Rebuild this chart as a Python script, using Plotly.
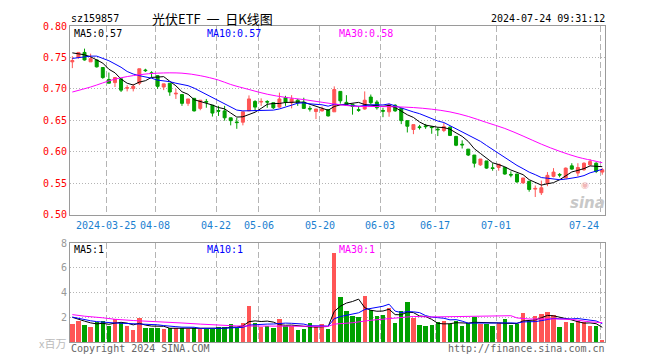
import plotly.graph_objects as go

# ---------------- data ----------------
open_ = [0.743, 0.750, 0.758, 0.743, 0.746, 0.734, 0.715, 0.710, 0.716, 0.701,
         0.7005, 0.709, 0.730, 0.7255, 0.721, 0.703, 0.709, 0.692, 0.691, 0.677,
         0.685, 0.669, 0.680, 0.674, 0.6656, 0.665, 0.654, 0.6474, 0.647, 0.665,
         0.680, 0.679, 0.680, 0.678, 0.671, 0.686, 0.678, 0.682, 0.679, 0.669,
         0.664, 0.665, 0.667, 0.6635, 0.696, 0.6786, 0.6755, 0.667, 0.668, 0.687,
         0.679, 0.6656, 0.6635, 0.674, 0.669, 0.6495, 0.6354, 0.6396, 0.6411, 0.6396,
         0.636, 0.6339, 0.639, 0.6245, 0.612, 0.6042, 0.5948, 0.5792, 0.5854, 0.5745,
         0.575, 0.575, 0.564, 0.5646, 0.5505, 0.5531, 0.5406, 0.5349, 0.5495, 0.5609,
         0.564, 0.5583, 0.5776, 0.5661, 0.5714, 0.5792, 0.5818, 0.5677]
high = [0.752, 0.758, 0.764, 0.756, 0.746, 0.734, 0.726, 0.719, 0.716, 0.706,
        0.708, 0.732, 0.732, 0.728, 0.722, 0.708, 0.709, 0.700, 0.691, 0.684,
        0.685, 0.682, 0.684, 0.674, 0.673, 0.673, 0.654, 0.654, 0.6635, 0.6896,
        0.682, 0.685, 0.682, 0.678, 0.694, 0.689, 0.690, 0.684, 0.686, 0.673,
        0.668, 0.672, 0.667, 0.704, 0.696, 0.690, 0.6755, 0.673, 0.696, 0.691,
        0.682, 0.670, 0.6766, 0.6755, 0.669, 0.6495, 0.6432, 0.6427, 0.6443, 0.6406,
        0.639, 0.6458, 0.6406, 0.6245, 0.6182, 0.6042, 0.5948, 0.5885, 0.5854, 0.5818,
        0.5802, 0.575, 0.5688, 0.5646, 0.5583, 0.5531, 0.5464, 0.5542, 0.5677, 0.574,
        0.5661, 0.575, 0.5818, 0.5818, 0.5833, 0.5885, 0.5833, 0.574]
low = [0.733, 0.748, 0.745, 0.743, 0.734, 0.716, 0.709, 0.703, 0.695, 0.696,
       0.696, 0.706, 0.727, 0.718, 0.700, 0.698, 0.689, 0.684, 0.673, 0.673,
       0.664, 0.666, 0.670, 0.656, 0.657, 0.6495, 0.642, 0.6365, 0.642, 0.665,
       0.665, 0.673, 0.670, 0.668, 0.670, 0.673, 0.669, 0.673, 0.668, 0.664,
       0.652, 0.664, 0.656, 0.6635, 0.6766, 0.6745, 0.659, 0.6635, 0.667, 0.6755,
       0.667, 0.655, 0.6557, 0.6635, 0.644, 0.6307, 0.628, 0.6354, 0.6365, 0.6286,
       0.625, 0.6313, 0.625, 0.6089, 0.6052, 0.5932, 0.575, 0.5776, 0.573, 0.5698,
       0.5698, 0.5635, 0.5594, 0.5505, 0.5495, 0.5365, 0.5281, 0.5313, 0.5453, 0.5594,
       0.5594, 0.5583, 0.5714, 0.5609, 0.5698, 0.5781, 0.5661, 0.5635]
close = [0.745, 0.758, 0.746, 0.748, 0.735, 0.718, 0.709, 0.718, 0.698, 0.702,
         0.704, 0.732, 0.729, 0.7245, 0.704, 0.708, 0.695, 0.693, 0.677, 0.684,
         0.665, 0.682, 0.679, 0.6615, 0.6646, 0.654, 0.6495, 0.6464, 0.6635, 0.684,
         0.671, 0.680, 0.679, 0.670, 0.684, 0.679, 0.684, 0.678, 0.669, 0.668,
         0.668, 0.668, 0.657, 0.699, 0.681, 0.6745, 0.672, 0.666, 0.682, 0.678,
         0.670, 0.6646, 0.6745, 0.665, 0.6495, 0.6406, 0.6432, 0.6385, 0.640, 0.6385,
         0.635, 0.640, 0.626, 0.6104, 0.611, 0.5948, 0.5818, 0.5885, 0.574, 0.5734,
         0.5802, 0.5646, 0.563, 0.5521, 0.5583, 0.5401, 0.5417, 0.5427, 0.5625, 0.5677,
         0.563, 0.574, 0.5724, 0.575, 0.5818, 0.5844, 0.5688, 0.5714]
volume = [1.45, 1.69, 1.37, 1.21, 1.61, 1.69, 1.29, 1.85, 1.53, 1.29,
          0.97, 1.93, 1.13, 1.13, 1.13, 1.05, 1.13, 1.13, 1.13, 1.05,
          1.13, 1.05, 1.05, 1.05, 1.21, 1.21, 1.45, 1.13, 1.53, 2.90,
          1.53, 1.21, 1.29, 1.13, 1.85, 1.29, 1.29, 0.97, 1.05, 1.53,
          1.21, 1.45, 1.05, 7.16, 3.62, 2.49, 2.09, 2.01, 3.70, 2.57,
          2.09, 2.17, 2.73, 1.53, 2.49, 3.22, 1.93, 1.37, 1.29, 1.37,
          1.61, 1.69, 1.45, 1.69, 1.29, 1.53, 2.01, 1.45, 1.45, 1.29,
          1.53, 1.85, 1.37, 1.45, 2.33, 1.69, 2.09, 2.25, 2.41, 2.17,
          1.21, 1.61, 1.53, 1.69, 1.61, 1.29, 1.29, 0.08]

ma5 = [0.7573, 0.7563, 0.7542, 0.751, 0.7464, 0.741, 0.7312, 0.7256, 0.7156, 0.709,
       0.7062, 0.7108, 0.713, 0.7183, 0.7187, 0.7195, 0.7121, 0.7049, 0.6954, 0.6914,
       0.6828, 0.6802, 0.6774, 0.6743, 0.6704, 0.6682, 0.6617, 0.6552, 0.6556, 0.6595,
       0.6629, 0.669, 0.6755, 0.6768, 0.6768, 0.6784, 0.6792, 0.679, 0.6788, 0.6756,
       0.6734, 0.6702, 0.666, 0.672, 0.6746, 0.6759, 0.6767, 0.6785, 0.6751, 0.6745,
       0.6736, 0.6721, 0.6738, 0.6704, 0.6647, 0.6588, 0.6546, 0.6474, 0.6424, 0.6402,
       0.639, 0.6384, 0.6359, 0.63, 0.6245, 0.6164, 0.6048, 0.5973, 0.59, 0.5825,
       0.5796, 0.5761, 0.571, 0.5667, 0.5636, 0.5556, 0.551, 0.547, 0.5491, 0.5509,
       0.5555, 0.562, 0.5679, 0.5704, 0.5732, 0.5775, 0.5765, 0.5763]
ma10 = [0.7484, 0.75, 0.751, 0.7521, 0.7521, 0.7484, 0.7448, 0.7396, 0.7344, 0.7277,
        0.7236, 0.721, 0.7193, 0.717, 0.7139, 0.7129, 0.7115, 0.709, 0.7069, 0.7051,
        0.7012, 0.6962, 0.6912, 0.6849, 0.6809, 0.6755, 0.671, 0.6663, 0.665, 0.665,
        0.6656, 0.6654, 0.6654, 0.6662, 0.6681, 0.6706, 0.6741, 0.6773, 0.6778, 0.6762,
        0.6759, 0.6747, 0.6725, 0.6754, 0.6751, 0.6747, 0.6735, 0.6723, 0.6736, 0.6746,
        0.6748, 0.6744, 0.6762, 0.6728, 0.6696, 0.6662, 0.6633, 0.6606, 0.6564, 0.6524,
        0.6489, 0.6465, 0.6416, 0.6362, 0.6323, 0.6277, 0.6216, 0.6166, 0.61, 0.6035,
        0.598, 0.5905, 0.5842, 0.5783, 0.5731, 0.5676, 0.5636, 0.559, 0.5579, 0.5573,
        0.5556, 0.5565, 0.5575, 0.5597, 0.5621, 0.5665, 0.5692, 0.5721]
ma30_day = [0, 3, 7, 11, 14, 18, 21, 24, 26, 29, 32, 35, 38, 41, 44, 47, 50, 53,
            56, 59, 62, 65, 68, 71, 74, 77, 80, 83, 86, 87]
ma30_val = [0.695, 0.703, 0.7155, 0.7225, 0.725, 0.725, 0.721, 0.714, 0.707, 0.699,
            0.6915, 0.6865, 0.683, 0.6787, 0.6747, 0.672, 0.672, 0.6715, 0.6703, 0.6677,
            0.6634, 0.6562, 0.6466, 0.6371, 0.625, 0.6121, 0.6008, 0.5914, 0.5848, 0.5826]

vma5 = [2.0, 1.82, 1.69, 1.55, 1.466, 1.514, 1.434, 1.53, 1.594, 1.53,
        1.386, 1.514, 1.37, 1.29, 1.258, 1.274, 1.114, 1.114, 1.114, 1.098,
        1.114, 1.098, 1.082, 1.066, 1.098, 1.114, 1.194, 1.21, 1.306, 1.644,
        1.708, 1.66, 1.692, 1.612, 1.402, 1.354, 1.37, 1.306, 1.29, 1.226,
        1.21, 1.242, 1.258, 2.48, 2.898, 3.154, 3.282, 3.474, 2.782, 2.572,
        2.492, 2.508, 2.652, 2.218, 2.202, 2.428, 2.38, 2.108, 2.06, 1.836,
        1.514, 1.466, 1.482, 1.562, 1.546, 1.53, 1.594, 1.594, 1.546, 1.546,
        1.546, 1.514, 1.498, 1.498, 1.706, 1.738, 1.786, 1.962, 2.154, 2.122,
        2.026, 1.93, 1.786, 1.642, 1.53, 1.546, 1.482, 1.192]
vma10 = [2.02, 1.9, 1.8, 1.72, 1.65, 1.6, 1.56, 1.54, 1.52, 1.498,
         1.45, 1.474, 1.45, 1.442, 1.394, 1.33, 1.314, 1.242, 1.202, 1.178,
         1.194, 1.106, 1.098, 1.09, 1.098, 1.114, 1.146, 1.146, 1.186, 1.371,
         1.411, 1.427, 1.451, 1.459, 1.523, 1.531, 1.515, 1.499, 1.451, 1.314,
         1.282, 1.306, 1.282, 1.885, 2.062, 2.182, 2.262, 2.366, 2.631, 2.735,
         2.823, 2.895, 3.063, 2.5, 2.387, 2.46, 2.444, 2.38, 2.139, 2.019,
         1.971, 1.923, 1.795, 1.811, 1.691, 1.522, 1.53, 1.538, 1.554, 1.546,
         1.538, 1.554, 1.546, 1.522, 1.626, 1.642, 1.65, 1.73, 1.826, 1.914,
         1.882, 1.858, 1.874, 1.898, 1.826, 1.786, 1.706, 1.489]
vma30_day = [0, 2, 5, 7, 10, 14, 18, 21, 24, 27, 32, 38, 42, 43, 46, 49, 53, 56,
             59, 62, 65, 69, 72, 73, 75, 79, 82, 85, 87]
vma30_val = [2.22, 2.09, 1.96, 1.84, 1.74, 1.66, 1.54, 1.45, 1.36, 1.30, 1.29, 1.28,
             1.27, 1.45, 1.56, 1.76, 1.97, 2.07, 2.03, 2.05, 2.07, 2.11, 2.13, 1.95,
             1.86, 1.87, 1.83, 1.63, 1.57]

tick_day = [6, 14, 24, 31, 41, 51, 60, 70, 87]
tick_text = ["2024-03-25", "04-08", "04-22", "05-06", "05-20", "06-03", "06-17", "07-01", "07-24"]
price_ticks = [0.50, 0.55, 0.60, 0.65, 0.70, 0.75, 0.80]
vol_ticks = [2, 4, 6, 8]

# ---------------- styling ----------------
UP = "#ff5555"
DN = "#00a000"
MONO = "DejaVu Sans Mono"
CJK = "Noto Sans CJK SC"
GRID = "#b4b4b4"
BORDER = "#9a9a9a"
FS = 10

days = list(range(len(close)))
bar_colors = [UP if c >= o else DN for o, c in zip(open_, close)]
grid_pos = [d - 0.37 for d in tick_day]

fig = go.Figure()
fig.add_trace(go.Candlestick(
    x=days, open=open_, high=high, low=low, close=close,
    increasing=dict(line=dict(color=UP, width=1), fillcolor=UP),
    decreasing=dict(line=dict(color=DN, width=1), fillcolor=DN),
    whiskerwidth=0, xaxis="x", yaxis="y", showlegend=False, hoverinfo="skip"))
fig.add_trace(go.Scatter(x=days, y=ma5, mode="lines", line=dict(color="#000000", width=1),
                         xaxis="x", yaxis="y", showlegend=False))
fig.add_trace(go.Scatter(x=days, y=ma10, mode="lines", line=dict(color="#0000ff", width=1),
                         xaxis="x", yaxis="y", showlegend=False))
fig.add_trace(go.Scatter(x=ma30_day, y=ma30_val, mode="lines",
                         line=dict(color="#ff00ff", width=1, shape="spline"),
                         xaxis="x", yaxis="y", showlegend=False))

fig.add_trace(go.Bar(x=days, y=volume, marker=dict(color=bar_colors, line=dict(width=0)),
                     width=0.72, xaxis="x2", yaxis="y2", showlegend=False))
fig.add_trace(go.Scatter(x=days, y=vma5, mode="lines", line=dict(color="#000000", width=1),
                         xaxis="x2", yaxis="y2", showlegend=False))
fig.add_trace(go.Scatter(x=days, y=vma10, mode="lines", line=dict(color="#0000ff", width=1),
                         xaxis="x2", yaxis="y2", showlegend=False))
fig.add_trace(go.Scatter(x=vma30_day, y=vma30_val, mode="lines",
                         line=dict(color="#ff00ff", width=1),
                         xaxis="x2", yaxis="y2", showlegend=False))

xr = [-0.383, 87.45]
common_x = dict(range=xr, tickmode="array", tickvals=grid_pos, showticklabels=False,
                showgrid=True, gridcolor=GRID, griddash="6px,3px", gridwidth=1,
                showline=True, mirror=True, linecolor=BORDER, linewidth=1,
                zeroline=False, ticks="", fixedrange=True)

# page body has an 8px margin: plot area lands at x 70..597, y 20..340
fig.update_layout(
    width=652, height=352,
    margin=dict(l=62, r=55, t=12, b=12),
    paper_bgcolor="white", plot_bgcolor="white",
    showlegend=False, bargap=0,
    xaxis=dict(domain=[0, 1], anchor="y", rangeslider=dict(visible=False), **common_x),
    xaxis2=dict(domain=[0, 1], anchor="y2", matches="x", **common_x),
    yaxis=dict(domain=[0.403, 1.0], range=[0.50, 0.80], tickmode="array",
               tickvals=price_ticks, ticktext=[f"{v:.2f}" for v in price_ticks],
               tickfont=dict(family=MONO, size=FS, color="#ff0000"),
               showgrid=True, gridcolor=GRID, griddash="1px,2px",
               showline=True, mirror=True, linecolor=BORDER, linewidth=1,
               zeroline=False, ticks=""),
    yaxis2=dict(domain=[0, 0.3125], range=[0, 8], tickmode="array",
                tickvals=vol_ticks, ticktext=[str(v) for v in vol_ticks],
                tickfont=dict(family=MONO, size=FS, color="#999999"),
                showgrid=True, gridcolor=GRID, griddash="1px,2px",
                showline=True, mirror=True, linecolor=BORDER, linewidth=1,
                zeroline=False, ticks=""),
)

def px_x(px):
    return (px - 70) / 527.0

def px_y(py):
    return (340 - py) / 320.0

ann = []
def text(x, y, s, color="#000000", size=FS, family=MONO, xanchor="left", **kw):
    ann.append(dict(x=x, y=y, xref="paper", yref="paper", text=s, showarrow=False,
                    xanchor=xanchor, yanchor="middle", borderpad=0,
                    font=dict(family=family, size=size, color=color, **kw)))

text(px_x(70), px_y(12), "sz159857")
text(px_x(150), px_y(12), "光伏ETF\u00a0\u00a0一\u00a0\u00a0日K线图", size=13, family=CJK)
text(px_x(598), px_y(12), "2024-07-24 09:31:12", xanchor="right")

text(px_x(73), px_y(28), "MA5:0.57")
text(px_x(204), px_y(28), "MA10:0.57", color="#0000ff")
text(px_x(334), px_y(28), "MA30:0.58", color="#ff00ff")

text(px_x(73), px_y(246), "MA5:1")
text(px_x(204), px_y(246), "MA10:1", color="#0000ff")
text(px_x(334), px_y(246), "MA30:1", color="#ff00ff")

text(px_x(70), px_y(347), "Copyright 2024 SINA.COM", color="#666666")
text(px_x(598), px_y(347), "http://finance.sina.com.cn", color="#666666", xanchor="right")
text(px_x(67), px_y(341), "x百万", color="#bbbbbb", size=11, family=CJK, xanchor="right")

# sina watermark (eye mark + word)
text(px_x(577), px_y(181), "◉", color="#f2b8b8", size=9, family="DejaVu Sans", xanchor="center")
text(px_x(580), px_y(199), "sina", color="#c8c8c8", size=15, family="DejaVu Sans",
     xanchor="center", style="italic", weight="bold")

for d, lab in zip(tick_day, tick_text):
    if lab == "07-24":
        ann.append(dict(x=d - 0.2, y=px_y(222), xref="x", yref="paper", text=lab,
                        showarrow=False, xanchor="right", yanchor="middle",
                        font=dict(family=MONO, size=FS, color="#1a80d0")))
    else:
        ann.append(dict(x=d - 0.42, y=px_y(222), xref="x", yref="paper", text=lab,
                        showarrow=False, xanchor="center", yanchor="middle",
                        font=dict(family=MONO, size=FS, color="#1a80d0")))

fig.update_layout(annotations=ann)
fig.write_html("out.html")
